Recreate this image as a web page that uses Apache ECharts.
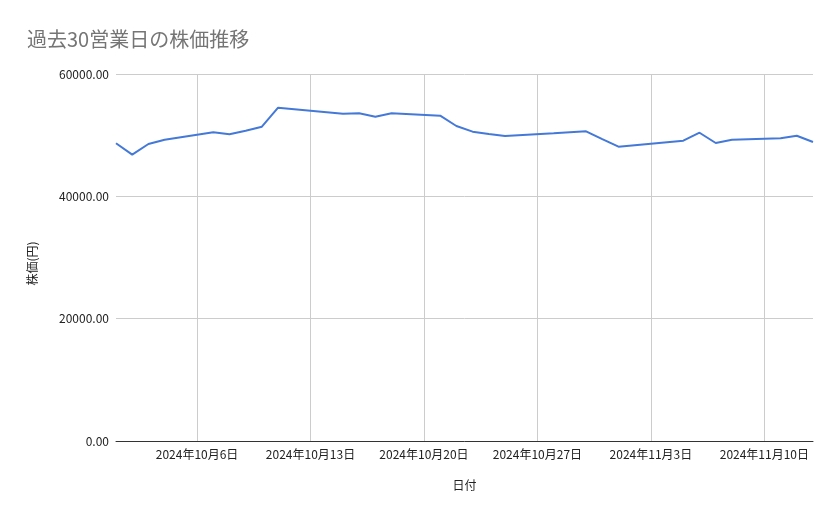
<!DOCTYPE html>
<html>
<head>
<meta charset="utf-8">
<script src="https://cdn.jsdelivr.net/npm/echarts@6/dist/echarts.min.js"></script>
<style>
html,body{margin:0;padding:0;background:#fff;}
#chart{width:839px;height:519px;}
</style>
</head>
<body>
<div id="chart"></div>
<script>
const titleText = '過去30営業日の株価推移';
const xAxisName = '日付';
const yAxisName = '株価(円)';
const dates = ['2024-10-01','2024-10-02','2024-10-03','2024-10-04','2024-10-07','2024-10-08','2024-10-09','2024-10-10','2024-10-11','2024-10-15','2024-10-16','2024-10-17','2024-10-18','2024-10-21','2024-10-22','2024-10-23','2024-10-24','2024-10-25','2024-10-28','2024-10-29','2024-10-30','2024-10-31','2024-11-01','2024-11-05','2024-11-06','2024-11-07','2024-11-08','2024-11-11','2024-11-12','2024-11-13'];
const prices = [48670, 46810, 48560, 49260, 50470, 50140, 50730, 51390, 54490, 53510, 53580, 53020, 53580, 53180, 51500, 50570, 50200, 49860, 50320, 50490, 50630, 49360, 48120, 49100, 50400, 48720, 49260, 49490, 49910, 48880];
const xTickDates = ['2024-10-06','2024-10-13','2024-10-20','2024-10-27','2024-11-03','2024-11-10'];
const xRange = ['2024-10-01','2024-11-13'];
const yTicks = [0, 20000, 40000, 60000];

const DAY = 86400000;
function toDay(s){ const p = s.split('-').map(Number); return Math.round(Date.UTC(p[0], p[1]-1, p[2]) / DAY); }
function fmtDay(v){ const d = new Date(Math.round(v) * DAY); return d.getUTCFullYear()+'年'+(d.getUTCMonth()+1)+'月'+d.getUTCDate()+'日'; }

const seriesData = dates.map((d,i)=>[toDay(d), prices[i]]);
const tickDays = xTickDates.map(toDay);
const FONT = '"Noto Sans CJK JP", "Noto Sans", sans-serif';

const chart = echarts.init(document.getElementById('chart'));
chart.setOption({
  animation: false,
  backgroundColor: '#fff',
  title: {
    text: titleText,
    left: 22, top: 24,
    textStyle: {fontFamily: FONT, fontSize: 20, fontWeight: 'normal', color: '#757575'}
  },
  grid: {left: 116, right: 26, top: 74, bottom: 78, containLabel: false},
  xAxis: {
    type: 'value',
    min: toDay(xRange[0]), max: toDay(xRange[1]),
    name: xAxisName, nameLocation: 'middle', nameGap: 38,
    nameTextStyle: {fontFamily: FONT, fontSize: 12, color: '#222'},
    axisLine: {show: true, onZero: false, lineStyle: {color: '#333', width: 1}},
    axisTick: {show: false, customValues: tickDays},
    axisLabel: {customValues: tickDays, formatter: fmtDay, fontFamily: FONT, fontSize: 12, color: '#222', margin: 7, hideOverlap: false},
    splitLine: {show: true, lineStyle: {color: '#cccccc', width: 1}}
  },
  yAxis: {
    type: 'value',
    min: yTicks[0], max: yTicks[yTicks.length-1], interval: yTicks[1]-yTicks[0],
    name: yAxisName, nameLocation: 'middle', nameGap: 78, nameRotate: 90,
    nameTextStyle: {fontFamily: FONT, fontSize: 12, color: '#222', padding: [0, 12, 0, 0]},
    axisLine: {show: false},
    axisTick: {show: false},
    axisLabel: {formatter: v => v.toFixed(2), fontFamily: FONT, fontSize: 12, color: '#222', margin: 7},
    splitLine: {show: true, lineStyle: {color: '#cccccc', width: 1}}
  },
  series: [{
    type: 'line',
    data: seriesData,
    showSymbol: false,
    symbol: 'none',
    lineStyle: {color: '#4479d8', width: 2},
    itemStyle: {color: '#4479d8'}
  }]
});
</script>
</body>
</html>
